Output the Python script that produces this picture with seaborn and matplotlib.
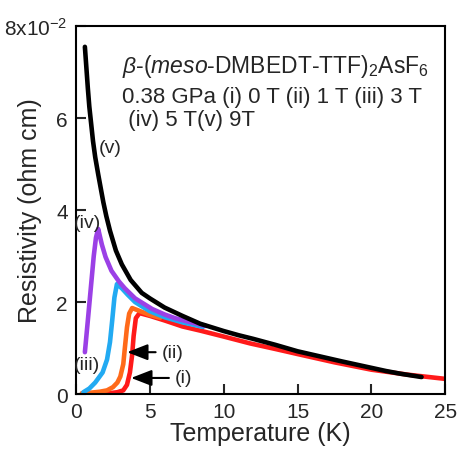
import numpy as np
import pandas as pd
import matplotlib
matplotlib.use("Agg")
import matplotlib.pyplot as plt
import seaborn as sns

# --- data, resistivity in units of 1e-2 ohm cm ---
t_v = [0.6, 0.7, 0.8, 0.9, 1.0, 1.15, 1.3, 1.5, 1.7, 1.85, 2.05, 2.3, 2.7, 3.1, 3.7,
       4.45, 5.0, 6.0, 7.2, 8.4, 10.0, 11.0, 12.0, 13.5, 15.0, 16.5, 18.0, 19.0,
       20.0, 21.0, 22.0, 23.4]
r_v = [7.55, 7.1, 6.65, 6.25, 5.95, 5.5, 5.15, 4.78, 4.43, 4.17, 3.87, 3.55, 3.12, 2.82, 2.48,
       2.2, 2.08, 1.88, 1.7, 1.53, 1.37, 1.28, 1.2, 1.07, 0.93, 0.82, 0.71, 0.64,
       0.57, 0.5, 0.44, 0.37]

t_iv = [0.6, 0.8, 1.0, 1.2, 1.35, 1.5, 1.75, 2.0, 2.4, 2.9, 3.3, 4.0, 5.15, 6.0, 6.7, 7.9, 8.8]
r_iv = [0.91, 1.6, 2.3, 3.0, 3.4, 3.59, 3.25, 2.98, 2.68, 2.45, 2.3, 2.08, 1.85, 1.73, 1.65, 1.55, 1.48]

t_iii = [0.5, 0.9, 1.3, 1.8, 2.1, 2.3, 2.45, 2.6, 2.77, 3.1, 3.5, 4.0, 5.0, 6.0, 7.2, 8.6]
r_iii = [0.04, 0.12, 0.25, 0.47, 0.75, 1.13, 1.6, 2.1, 2.39, 2.3, 2.16, 2.0, 1.8, 1.67, 1.56, 1.46]

t_ii = [0.4, 1.0, 1.6, 2.1, 2.5, 2.8, 3.0, 3.2, 3.3, 3.45, 3.6, 3.8, 4.2, 5.0, 5.7]
r_ii = [0.02, 0.03, 0.05, 0.08, 0.15, 0.25, 0.38, 0.65, 0.98, 1.45, 1.75, 1.87, 1.82, 1.72, 1.66]

t_i = [1.8, 2.3, 2.8, 3.2, 3.45, 3.65, 3.8, 3.9, 4.05, 4.3, 5.0, 6.0, 7.2, 8.4, 10.0,
       11.8, 13.5, 15.0, 17.5, 20.0, 22.5, 25.0]
r_i = [0.01, 0.02, 0.04, 0.08, 0.2, 0.47, 0.85, 1.26, 1.65, 1.76, 1.7, 1.6, 1.47, 1.38, 1.25,
       1.1, 0.98, 0.87, 0.69, 0.53, 0.42, 0.33]

x_ticks = [0, 5, 10, 15, 20, 25]
y_ticks = [0, 2, 4, 6, 8]
y_ticklabels = ["0", "2", "4", "6", "8x10$^{-2}$"]

colors = {"(i)": "#ff1a1a", "(ii)": "#ff6a1a", "(iii)": "#22aaf2",
          "(iv)": "#9b40e6", "(v)": "#000000"}

frames = []
for name, t, r in [("(i)", t_i, r_i), ("(ii)", t_ii, r_ii), ("(iii)", t_iii, r_iii),
                   ("(iv)", t_iv, r_iv), ("(v)", t_v, r_v)]:
    frames.append(pd.DataFrame({"T": t, "rho": r, "field": name}))
df = pd.concat(frames, ignore_index=True)

sns.set_theme(style="ticks")
plt.rcParams["font.family"] = ["Liberation Sans", "DejaVu Sans"]
plt.rcParams["mathtext.fontset"] = "custom"
plt.rcParams["mathtext.rm"] = "Liberation Sans"
plt.rcParams["mathtext.it"] = "Liberation Sans:italic"
plt.rcParams["mathtext.default"] = "regular"

fig = plt.figure(figsize=(4.58, 4.52), dpi=100)
ax = fig.add_axes([0.166, 0.126, 0.806, 0.814])

sns.lineplot(data=df, x="T", y="rho", hue="field", palette=colors, sort=False,
             linewidth=3.3, legend=False, ax=ax)

ax.set_xlim(0, 25)
ax.set_ylim(0, 8)
ax.set_xticks(x_ticks)
ax.set_yticks(y_ticks)
ax.set_yticklabels(y_ticklabels)
ax.tick_params(direction="in", length=7, width=1.5, labelsize=15, pad=6)
for s in ax.spines.values():
    s.set_linewidth(1.5)
    s.set_color("black")
ax.set_xlabel("Temperature (K)", fontsize=18, labelpad=0)
ax.set_ylabel("Resistivity (ohm cm)", fontsize=18)
ax.yaxis.set_label_coords(-0.092, 0.5)

ax.text(3.1, 7.15, r"$\mathit{\beta}$-($\mathit{meso}$-DMBEDT-TTF)$_2$AsF$_6$",
        fontsize=16.5, ha="left", va="center")
ax.text(3.1, 6.47, "0.38 GPa (i) 0 T (ii) 1 T (iii) 3 T", fontsize=16, ha="left", va="center")
ax.text(3.1, 5.97, " (iv) 5 T(v) 9T", fontsize=16, ha="left", va="center")

ax.text(2.3, 5.37, "(v)", fontsize=14, ha="center", va="center")
ax.text(0.8, 3.74, "(iv)", fontsize=14, ha="center", va="center")
ax.text(0.75, 0.65, "(iii)", fontsize=14, ha="center", va="center")

arrow = dict(arrowstyle="-|>,head_width=0.35,head_length=0.9", color="black",
             lw=1.5, mutation_scale=14, shrinkA=2, shrinkB=0)
ax.annotate("(ii)", xy=(3.46, 0.91), xytext=(5.8, 0.91), fontsize=14,
            ha="left", va="center", arrowprops=arrow)
ax.annotate("(i)", xy=(3.73, 0.35), xytext=(6.7, 0.35), fontsize=14,
            ha="left", va="center", arrowprops=arrow)

fig.savefig("out.png", dpi=100)
